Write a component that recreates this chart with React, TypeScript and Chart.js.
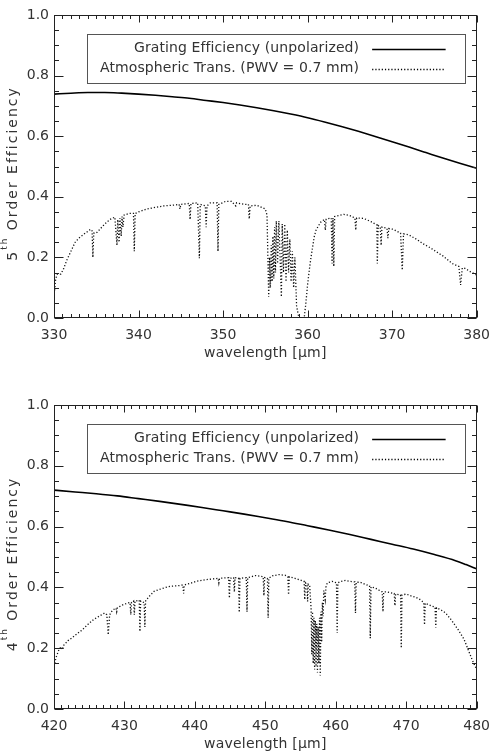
import React, { useEffect, useRef } from 'react';
import { Chart, registerables } from 'chart.js';

Chart.register(...registerables);

const FONT = '"DejaVu Sans", sans-serif';
const TEXT = '#333';

const seriesLabels = ['Grating Efficiency (unpolarized)', 'Atmospheric Trans. (PWV = 0.7 mm)'];
const xTitle = 'wavelength [\u03BCm]';
const yTickLabels = ['0.0', '0.2', '0.4', '0.6', '0.8', '1.0'];

// ---------- 5th order panel ----------
const gratingWl5 = [330, 332, 334, 336, 338, 340, 342, 344, 346, 348, 350, 352, 354, 356, 358, 360, 362, 364, 366, 368, 370, 372, 374, 376, 378, 380];
const gratingEff5 = [0.739, 0.742, 0.744, 0.744, 0.742, 0.739, 0.735, 0.730, 0.725, 0.718, 0.711, 0.703, 0.694, 0.684, 0.673, 0.661, 0.647, 0.632, 0.616, 0.599, 0.582, 0.564, 0.546, 0.528, 0.511, 0.494];

const atmWl5 = [
  330.0, 330.1, 330.2, 330.4, 330.8, 331.1, 331.5, 332.0, 332.5, 333.0, 333.7, 334.3, 334.5, 334.6, 334.7, 335.0, 335.5, 336.0, 336.6, 337.2,
  337.45, 337.55, 337.7, 337.8, 337.95, 338.05, 338.15, 338.3, 338.9, 339.4, 339.5, 339.6, 340.0, 341.0, 342.0, 343.0, 344.0, 344.8, 344.9, 345.0,
  346.0, 346.1, 346.2, 347.0, 347.2, 347.3, 347.9, 348.0, 348.1, 348.5, 349.3, 349.4, 349.5, 350.3, 351.0, 351.5, 351.6, 352.5, 353.0, 353.1,
  353.2, 354.0, 355.0, 355.2, 355.4, 355.5, 355.6, 355.7, 355.8, 355.9, 356.0, 356.1, 356.2, 356.3, 356.45, 356.6, 356.75, 356.9, 357.0, 357.15,
  357.3, 357.45, 357.6, 357.75, 357.9, 358.05, 358.2, 358.35, 358.5, 358.7, 358.9, 359.1, 359.6, 359.8, 360.0, 360.2, 360.4, 360.6, 360.8, 361.0,
  361.3, 361.6, 362.0, 362.1, 362.2, 362.8, 362.9, 363.0, 363.1, 363.2, 364.0, 364.3, 365.0, 365.6, 365.7, 365.8, 366.6, 367.5, 368.2, 368.25,
  368.35, 368.6, 368.7, 368.8, 369.4, 369.5, 369.6, 370.1, 371.0, 371.2, 371.35, 372.0, 373.0, 373.6, 374.5, 375.2, 376.0, 377.1, 377.9, 378.1,
  378.3, 378.6, 379.3, 380.0
];
const atmTr5 = [
  0.07, 0.10, 0.13, 0.145, 0.145, 0.16, 0.19, 0.22, 0.25, 0.265, 0.28, 0.292, 0.29, 0.20, 0.28, 0.28, 0.295, 0.31, 0.325, 0.333,
  0.24, 0.325, 0.25, 0.33, 0.27, 0.335, 0.30, 0.34, 0.345, 0.345, 0.22, 0.345, 0.35, 0.36, 0.365, 0.37, 0.372, 0.375, 0.36, 0.375,
  0.378, 0.325, 0.378, 0.38, 0.197, 0.375, 0.37, 0.30, 0.37, 0.38, 0.38, 0.22, 0.375, 0.385, 0.385, 0.37, 0.38, 0.375, 0.375, 0.327,
  0.37, 0.372, 0.36, 0.34, 0.07, 0.20, 0.10, 0.24, 0.12, 0.27, 0.13, 0.30, 0.15, 0.32, 0.18, 0.32, 0.20, 0.07, 0.31, 0.15,
  0.31, 0.12, 0.29, 0.15, 0.26, 0.12, 0.22, 0.10, 0.20, 0.04, 0.01, 0.0, 0.0, 0.05, 0.11, 0.158, 0.20, 0.235, 0.27, 0.29,
  0.305, 0.318, 0.325, 0.29, 0.326, 0.33, 0.18, 0.33, 0.17, 0.335, 0.34, 0.342, 0.338, 0.33, 0.29, 0.33, 0.329, 0.318, 0.307, 0.18,
  0.305, 0.30, 0.24, 0.30, 0.296, 0.263, 0.295, 0.293, 0.28, 0.158, 0.278, 0.274, 0.258, 0.246, 0.232, 0.219, 0.205, 0.18, 0.17, 0.109,
  0.165, 0.164, 0.152, 0.142
];

// ---------- 4th order panel ----------
const gratingWl4 = [420, 423, 426, 429, 432, 435, 438, 441, 444, 447, 450, 453, 456, 459, 462, 465, 468, 471, 474, 477, 478.5, 480];
const gratingEff4 = [0.720, 0.714, 0.708, 0.701, 0.692, 0.683, 0.673, 0.663, 0.652, 0.641, 0.629, 0.617, 0.603, 0.589, 0.574, 0.558, 0.542, 0.526, 0.508, 0.488, 0.475, 0.461];

const atmWl4 = [
  420.0, 420.3, 420.7, 421.0, 421.2, 421.4, 422.0, 422.6, 423.3, 424.0, 424.8, 425.6, 426.4, 427.2, 427.5, 427.7, 427.9, 428.3, 428.8, 428.9,
  429.0, 429.7, 430.5, 430.8, 430.9, 431.0, 431.3, 431.4, 431.5, 432.1, 432.2, 432.3, 432.8, 432.9, 433.0, 433.5, 434.2, 435.3, 436.5, 437.5,
  438.3, 438.4, 438.5, 439.3, 440.2, 441.4, 442.6, 443.3, 443.4, 443.5, 444.8, 444.9, 445.0, 445.5, 445.6, 445.7, 446.2, 446.3, 446.4, 447.3,
  447.4, 447.5, 448.6, 449.7, 449.8, 449.9, 450.3, 450.4, 450.5, 451.0, 451.9, 452.8, 453.2, 453.3, 453.4, 454.2, 455.5, 455.6, 455.7, 455.9,
  456.0, 456.1, 456.3, 456.5, 456.6, 456.7, 456.8, 456.9, 457.0, 457.1, 457.2, 457.3, 457.4, 457.5, 457.6, 457.7, 457.8, 457.9, 458.0, 458.1,
  458.2, 458.3, 458.5, 458.6, 458.8, 459.5, 460.1, 460.2, 460.3, 460.8, 461.4, 462.0, 462.7, 462.8, 462.9, 463.5, 464.2, 464.8, 464.9, 465.0,
  465.6, 466.2, 466.6, 466.7, 466.8, 467.3, 468.3, 468.4, 468.5, 469.2, 469.3, 469.4, 470.0, 470.7, 471.4, 472.0, 472.5, 472.6, 472.7, 473.7,
  474.1, 474.2, 474.3, 475.0, 475.6, 476.5, 477.4, 478.2, 478.8, 479.4, 480.0
];
const atmTr4 = [
  0.14, 0.17, 0.195, 0.205, 0.195, 0.21, 0.225, 0.235, 0.248, 0.26, 0.278, 0.294, 0.305, 0.316, 0.31, 0.244, 0.31, 0.325, 0.332, 0.32,
  0.333, 0.342, 0.349, 0.35, 0.31, 0.35, 0.355, 0.31, 0.355, 0.358, 0.255, 0.355, 0.35, 0.27, 0.355, 0.37, 0.387, 0.396, 0.404, 0.405,
  0.408, 0.38, 0.408, 0.413, 0.42, 0.425, 0.428, 0.43, 0.415, 0.43, 0.432, 0.365, 0.43, 0.432, 0.385, 0.432, 0.43, 0.318, 0.43, 0.432,
  0.32, 0.432, 0.439, 0.435, 0.373, 0.432, 0.43, 0.30, 0.43, 0.438, 0.442, 0.44, 0.435, 0.376, 0.435, 0.43, 0.42, 0.36, 0.415, 0.41,
  0.354, 0.41, 0.405, 0.33, 0.18, 0.32, 0.15, 0.30, 0.13, 0.29, 0.14, 0.28, 0.12, 0.27, 0.15, 0.30, 0.11, 0.32, 0.22, 0.35,
  0.305, 0.39, 0.36, 0.40, 0.415, 0.42, 0.415, 0.25, 0.415, 0.42, 0.423, 0.42, 0.418, 0.316, 0.417, 0.417, 0.41, 0.405, 0.233, 0.402,
  0.398, 0.39, 0.385, 0.32, 0.385, 0.385, 0.38, 0.34, 0.378, 0.375, 0.20, 0.375, 0.378, 0.372, 0.367, 0.36, 0.35, 0.277, 0.348, 0.338,
  0.335, 0.268, 0.333, 0.325, 0.316, 0.29, 0.26, 0.23, 0.195, 0.16, 0.13
];

const toPoints = (xs: number[], ys: number[]) => xs.map((x, i) => ({ x, y: ys[i] }));

const framePlugin = {
  id: 'frame',
  afterDraw(chart: any, _args: any, opts: any) {
    const { ctx, chartArea: ca } = chart;
    const xs = chart.scales.x;
    const ys = chart.scales.y;
    const L = Math.round(ca.left) + 0.5;
    const R = Math.round(ca.right) - 0.5;
    const T = Math.round(ca.top) + 0.5;
    const B = Math.round(ca.bottom) - 0.5;
    ctx.save();
    ctx.strokeStyle = '#222';
    ctx.lineWidth = 1;
    ctx.setLineDash([]);
    ctx.strokeRect(L, T, R - L, B - T);
    ctx.beginPath();
    const nx = Math.round(xs.max - xs.min);
    for (let i = 0; i <= nx; i++) {
      const v = xs.min + i;
      const px = Math.round(xs.getPixelForValue(v)) + 0.5;
      const len = i % 10 === 0 ? 7 : 3.5;
      ctx.moveTo(px, B); ctx.lineTo(px, B - len);
      ctx.moveTo(px, T); ctx.lineTo(px, T + len);
    }
    for (let i = 0; i <= 20; i++) {
      const v = i * 0.05;
      const py = Math.round(ys.getPixelForValue(v)) + 0.5;
      const len = i % 4 === 0 ? 9 : 4.5;
      ctx.moveTo(L, py); ctx.lineTo(L + len, py);
      ctx.moveTo(R, py); ctx.lineTo(R - len, py);
    }
    ctx.stroke();

    // legend
    const bx0 = ca.left + 32.5, bx1 = ca.right - 12.5;
    const by0 = ca.top + 18.5, by1 = ca.top + 67;
    ctx.strokeStyle = '#555';
    ctx.strokeRect(Math.round(bx0) + 0.5, Math.round(by0) + 0.5, Math.round(bx1 - bx0), Math.round(by1 - by0));
    ctx.font = `14px ${FONT}`;
    ctx.fillStyle = TEXT;
    ctx.textAlign = 'right';
    ctx.textBaseline = 'middle';
    (ctx as any).letterSpacing = '0.1px';
    const rows = [ca.top + 33.5, ca.top + 53.5];
    chart.data.datasets.forEach((ds: any, i: number) => {
      const y = rows[i];
      ctx.fillText(ds.label, ca.right - 117.5, y);
      ctx.beginPath();
      ctx.strokeStyle = '#000';
      ctx.lineWidth = ds.borderWidth;
      ctx.setLineDash(ds.borderDash || []);
      ctx.moveTo(ca.right - 104.5, Math.round(y) + 0.5);
      ctx.lineTo(ca.right - 31, Math.round(y) + 0.5);
      ctx.stroke();
    });
    ctx.setLineDash([]);

    // x title
    (ctx as any).letterSpacing = '0.2px';
    ctx.textAlign = 'center';
    ctx.textBaseline = 'middle';
    ctx.fillStyle = TEXT;
    ctx.font = `14px ${FONT}`;
    ctx.fillText(xTitle, (ca.left + ca.right) / 2, ca.bottom + 35.5);

    // y title with superscript
    ctx.translate(12, (ca.top + ca.bottom) / 2 + 7);
    ctx.rotate(-Math.PI / 2);
    ctx.textAlign = 'left';
    ctx.textBaseline = 'alphabetic';
    (ctx as any).letterSpacing = '2px';
    const big = `14px ${FONT}`;
    const small = `9px ${FONT}`;
    const ord = String(opts.order);
    const rest = ' Order Efficiency';
    ctx.font = big; const w1 = ctx.measureText(ord).width;
    ctx.font = small; const w2 = ctx.measureText('th').width;
    ctx.font = big; const w3 = ctx.measureText(rest).width;
    let x0 = -(w1 + w2 + w3) / 2;
    const base = 4.5;
    ctx.font = big; ctx.fillText(ord, x0, base); x0 += w1;
    ctx.font = small; ctx.fillText('th', x0, base - 9.5); x0 += w2;
    ctx.font = big; ctx.fillText(rest, x0, base);
    ctx.restore();
  },
};

type PanelProps = {
  top: number;
  order: number;
  xMin: number;
  xMax: number;
  gWl: number[];
  gEff: number[];
  aWl: number[];
  aTr: number[];
  padTop: number;
  axisH: number;
};

function Panel(p: PanelProps) {
  const ref = useRef<HTMLCanvasElement>(null);
  useEffect(() => {
    if (!ref.current) return;
    const chart = new Chart(ref.current, {
      type: 'line',
      data: {
        datasets: [
          {
            label: seriesLabels[0],
            data: toPoints(p.gWl, p.gEff),
            borderColor: '#000',
            borderWidth: 1.6,
            pointRadius: 0,
            cubicInterpolationMode: 'monotone',
            fill: false,
          },
          {
            label: seriesLabels[1],
            data: toPoints(p.aWl, p.aTr),
            borderColor: '#111',
            borderWidth: 1.3,
            borderDash: [1.2, 2],
            pointRadius: 0,
            tension: 0,
            fill: false,
          },
        ],
      } as any,
      options: {
        animation: false,
        responsive: false,
        events: [],
        layout: { padding: { top: p.padTop, right: 14, left: 0, bottom: 0 } },
        plugins: {
          legend: { display: false },
          tooltip: { enabled: false },
          frame: { order: p.order },
        } as any,
        scales: {
          x: {
            type: 'linear',
            min: p.xMin,
            max: p.xMax,
            grid: { display: false, drawTicks: false },
            border: { display: false },
            ticks: { stepSize: 10, padding: 9, color: TEXT, font: { family: FONT, size: 14 }, maxRotation: 0 },
            afterFit: (s: any) => { s.height = p.axisH; },
          },
          y: {
            type: 'linear',
            min: 0,
            max: 1,
            grid: { display: false, drawTicks: false },
            border: { display: false },
            ticks: {
              stepSize: 0.2,
              padding: 5,
              color: TEXT,
              font: { family: FONT, size: 14 },
              callback: (_v: any, i: number) => yTickLabels[i],
            },
            afterFit: (s: any) => { s.width = 54; },
          },
        },
      } as any,
      plugins: [framePlugin],
    });
    return () => chart.destroy();
  }, []);
  return (
    <canvas
      ref={ref}
      width={499}
      height={378}
      style={{ position: 'absolute', left: 0, top: p.top, width: 499, height: 378 }}
    />
  );
}

export default function App() {
  return (
    <div style={{ position: 'absolute', left: 0, top: 0, width: 499, height: 756, background: '#fff' }}>
      <Panel top={0} order={5} xMin={330} xMax={380} gWl={gratingWl5} gEff={gratingEff5} aWl={atmWl5} aTr={atmTr5} padTop={15} axisH={60} />
      <Panel top={378} order={4} xMin={420} xMax={480} gWl={gratingWl4} gEff={gratingEff4} aWl={atmWl4} aTr={atmTr4} padTop={27} axisH={47} />
    </div>
  );
}
